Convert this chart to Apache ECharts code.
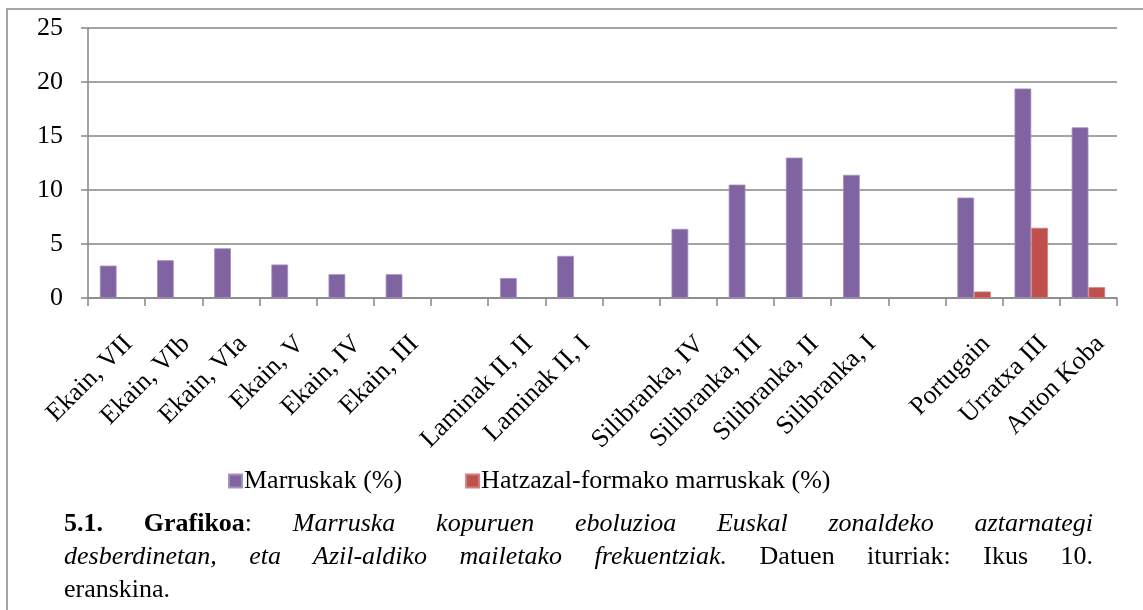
<!DOCTYPE html>
<html>
<head>
<meta charset="utf-8">
<script src="https://cdn.jsdelivr.net/npm/echarts@6/dist/echarts.min.js"></script>
<style>
  html, body { margin: 0; padding: 0; background: #fff; }
  #frame {
    position: absolute; left: 6px; top: 8px; width: 1160px; height: 700px;
    border-left: 2px solid #a6a6a6; border-top: 2px solid #a6a6a6;
  }
  #chart { position: absolute; left: 0; top: 0; width: 1143px; height: 610px; }
  #caption {
    position: absolute; left: 64px; top: 506px; width: 1029px;
    font-family: 'Liberation Serif', 'Times New Roman', 'DejaVu Serif', serif;
    font-size: 26px; line-height: 33px; color: #000;
  }
  #caption .j { text-align: justify; text-align-last: justify; white-space: nowrap; }
</style>
</head>
<body>
<div id="frame"></div>
<div id="chart"></div>
<div id="caption">
  <div class="j"><b>5.1. Grafikoa</b>: <i>Marruska kopuruen eboluzioa Euskal zonaldeko aztarnategi</i></div>
  <div class="j"><i>desberdinetan, eta Azil-aldiko mailetako frekuentziak.</i> Datuen iturriak: Ikus 10.</div>
  <div>eranskina.</div>
</div>
<script>
// kategoriak (hutsuneak taldeen artean)
const categories = [
  'Ekain, VII', 'Ekain, VIb', 'Ekain, VIa', 'Ekain, V', 'Ekain, IV', 'Ekain, III', '',
  'Laminak II, II', 'Laminak II, I', '',
  'Silibranka, IV', 'Silibranka, III', 'Silibranka, II', 'Silibranka, I', '',
  'Portugain', 'Urratxa III', 'Anton Koba'
]
const marruskak = [3.0, 3.5, 4.6, 3.1, 2.2, 2.2, null, 1.85, 3.9, null, 6.4, 10.5, 13.0, 11.4, null, 9.3, 19.4, 15.8]
const hatzazal = [null, null, null, null, null, null, null, null, null, null, null, null, null, null, null, 0.6, 6.5, 1.0]
const yTicks = [0, 5, 10, 15, 20, 25]

const font = "'Liberation Serif', 'Times New Roman', serif"
const gray = '#868686'

const chart = echarts.init(document.getElementById('chart'))
const option = {
  animation: false,
  textStyle: { fontFamily: font, color: '#000' },
  grid: { left: 88, right: 26, top: 28, bottom: 312, containLabel: false },
  legend: {
    left: 223,
    top: 463,
    icon: 'rect',
    itemWidth: 13,
    itemHeight: 13,
    itemGap: 63,
    textStyle: { fontFamily: font, fontSize: 26, color: '#000', padding: [0, 0, 0, -3] },
    data: ['Marruskak (%)', 'Hatzazal-formako marruskak (%)']
  },
  xAxis: {
    type: 'category',
    data: categories,
    axisLine: { lineStyle: { color: gray, width: 1.5 } },
    axisTick: { show: true, length: 8, interval: 0, lineStyle: { color: gray, width: 1.5 } },
    axisLabel: {
      interval: 0,
      rotate: 45,
      margin: 30,
      verticalAlign: 'top',
      padding: [4, 0, 0, 0],
      fontFamily: font,
      fontSize: 26,
      color: '#000'
    },
    splitLine: { show: false }
  },
  yAxis: {
    type: 'value',
    min: yTicks[0],
    max: yTicks[yTicks.length - 1],
    interval: 5,
    axisLine: { show: true, lineStyle: { color: gray, width: 1.5 } },
    axisTick: { show: true, length: 7, lineStyle: { color: gray, width: 1.5 } },
    axisLabel: { margin: 25, fontFamily: font, fontSize: 26, color: '#000' },
    splitLine: { lineStyle: { color: gray, width: 1.5 } }
  },
  series: [
    {
      name: 'Marruskak (%)',
      type: 'bar',
      data: marruskak,
      barGap: '0%',
      barCategoryGap: '41.5%',
      itemStyle: { color: '#8064A2', borderColor: '#a391bb', borderWidth: 0.8 }
    },
    {
      name: 'Hatzazal-formako marruskak (%)',
      type: 'bar',
      data: hatzazal,
      barGap: '0%',
      barCategoryGap: '41.5%',
      itemStyle: { color: '#C0504D', borderColor: '#d27f7d', borderWidth: 0.8 }
    }
  ]
}
chart.setOption(option)
</script>
</body>
</html>
